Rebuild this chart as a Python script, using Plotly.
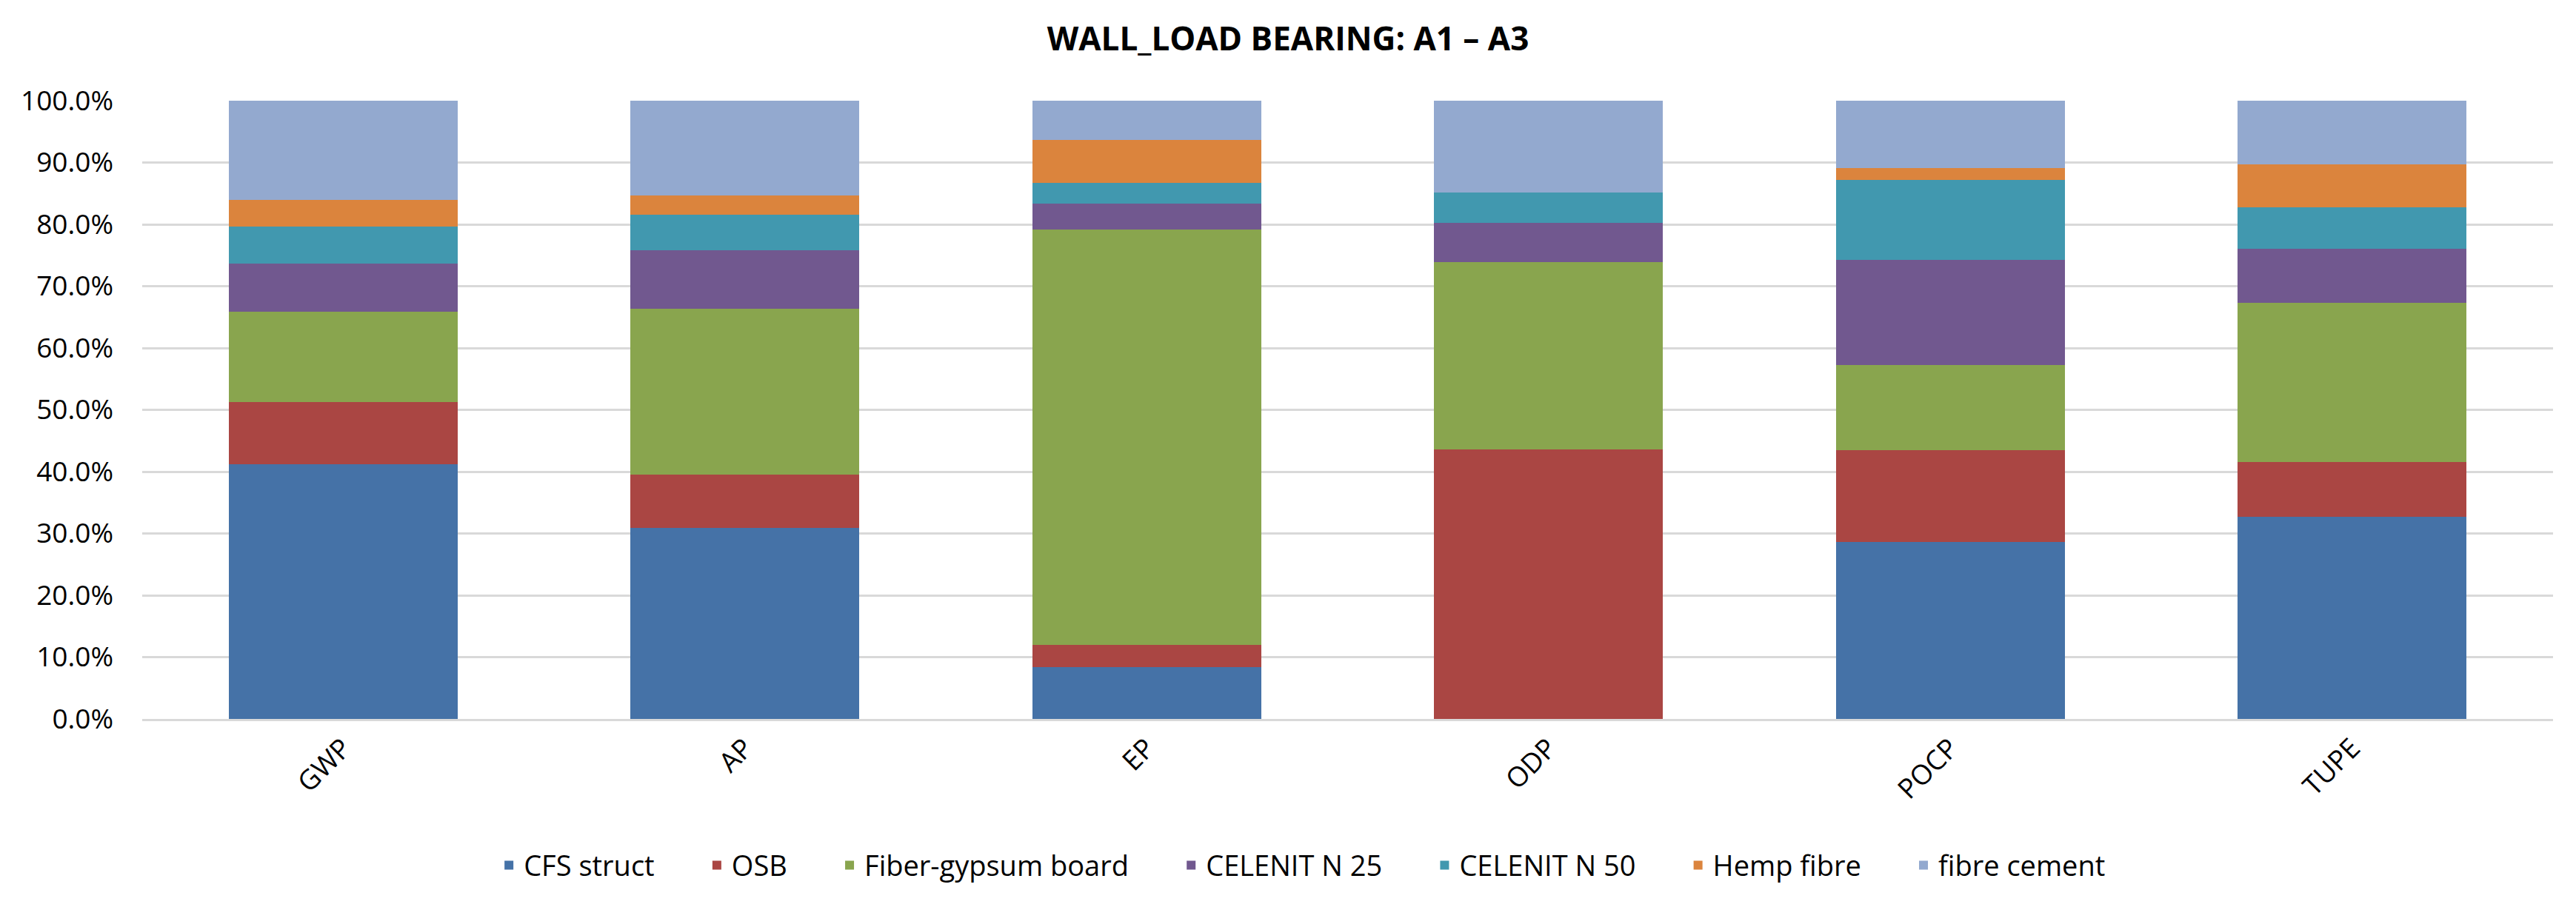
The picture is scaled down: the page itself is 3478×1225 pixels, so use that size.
import plotly.graph_objects as go

categories = ["GWP", "AP", "EP", "ODP", "POCP", "TUPE"]
series_names = ["CFS struct", "OSB", "Fiber-gypsum board", "CELENIT N 25",
                "CELENIT N 50", "Hemp fibre", "fibre cement"]
cfs_struct = [41.2, 30.9, 8.4, 0.0, 28.6, 32.7]
osb = [10.1, 8.6, 3.6, 43.6, 14.9, 8.8]
fiber_gypsum = [14.6, 26.9, 67.2, 30.3, 13.7, 25.8]
celenit_25 = [7.7, 9.4, 4.2, 6.3, 17.1, 8.8]
celenit_50 = [6.1, 5.8, 3.3, 4.9, 12.9, 6.6]
hemp_fibre = [4.2, 3.1, 6.9, 0.0, 1.9, 7.0]
fibre_cement = [16.1, 15.3, 6.4, 14.9, 10.9, 10.3]
colors = ["#4572A7", "#AA4643", "#89A54E", "#71588F", "#4198AF", "#DB843D", "#93A9CF"]

all_series = [cfs_struct, osb, fiber_gypsum, celenit_25, celenit_50, hemp_fibre, fibre_cement]

PAD = "\u00a0" * 6  # spacing between legend entries
fig = go.Figure()
for i, (name, vals, col) in enumerate(zip(series_names, all_series, colors)):
    label = name + (PAD if i < len(series_names) - 1 else "")
    fig.add_trace(go.Bar(
        x=categories, y=[v / 100 for v in vals], name=label,
        marker=dict(color=col, line=dict(width=0)),
    ))

FONT = "Open Sans"
W, H = 3462, 1209  # page body has an 8px margin
fig.update_layout(
    barmode="stack",
    bargap=0.43,
    width=W, height=H,
    paper_bgcolor="white", plot_bgcolor="white",
    margin=dict(l=184, r=23, t=128, b=246),
    title=dict(text="<b>WALL_LOAD BEARING: A1 – A3</b>", x=0.5, xanchor="center",
               y=1 - 45 / H, yanchor="middle",
               font=dict(family=FONT, size=44, color="#000000")),
    font=dict(family=FONT, size=37, color="#000000"),
    legend=dict(orientation="h", x=0.481, xanchor="center", y=-0.237, yanchor="middle",
                font=dict(family=FONT, size=38, color="#000000"),
                traceorder="normal", itemwidth=30),
    showlegend=True,
)
fig.update_yaxes(range=[0, 1], dtick=0.1, tickformat=".1%",
                 showgrid=True, gridcolor="#D9D9D9", gridwidth=3,
                 zeroline=False, showline=False, ticks="",
                 ticklabelstandoff=38,
                 tickfont=dict(family=FONT, size=37, color="#000000"))
fig.update_xaxes(showline=True, linecolor="#D9D9D9", linewidth=3, ticks="",
                 tickangle=-45,
                 tickfont=dict(family=FONT, size=37, color="#000000"))

fig.write_html("out.html")
